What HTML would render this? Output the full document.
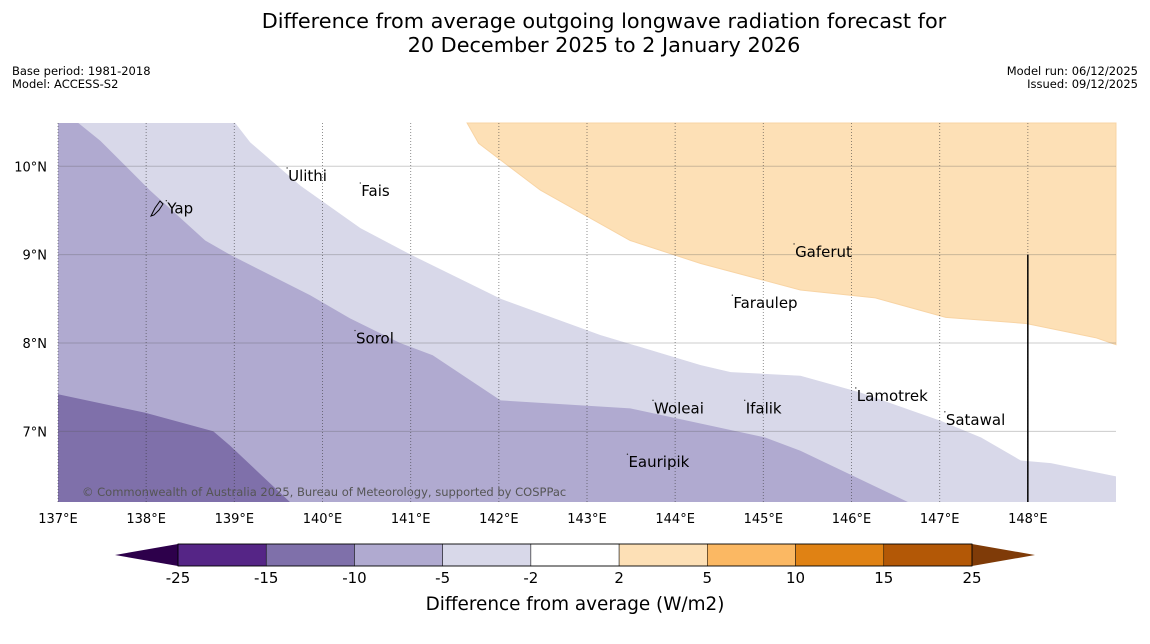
<!DOCTYPE html>
<html><head><meta charset="utf-8">
<style>
body{margin:0;background:#fff;width:1150px;height:644px;overflow:hidden;font-family:"DejaVu Sans","Liberation Sans",sans-serif;}
svg{display:block}
</style></head>
<body>
<svg id="chart" width="1150" height="644" xmlns="http://www.w3.org/2000/svg" font-family="DejaVu Sans, Liberation Sans, sans-serif">
<text x="604" y="28" text-anchor="middle" font-size="20.8" fill="#000">Difference from average outgoing longwave radiation forecast for</text>
<text x="604" y="52" text-anchor="middle" font-size="20.8" fill="#000">20 December 2025 to 2 January 2026</text>
<text x="12" y="75" font-size="11.5">Base period: 1981-2018</text>
<text x="12" y="88" font-size="11.5">Model: ACCESS-S2</text>
<text x="1138" y="75" font-size="11.5" text-anchor="end">Model run: 06/12/2025</text>
<text x="1138" y="88" font-size="11.5" text-anchor="end">Issued: 09/12/2025</text>
<g id="map"></g>
<g id="cbar"></g>
<text x="575" y="610" text-anchor="middle" font-size="18.4">Difference from average (W/m2)</text>
</svg>
<script>
const lonTicks=[137,138,139,140,141,142,143,144,145,146,147,148];
const latTicks=[7,8,9,10];
const boundaryA=[[137,7.42],[137.99,7.21],[138.76,7.0],[138.95,6.84],[139.63,6.2]];
const boundaryB=[[137.23,10.49],[137.48,10.29],[138.04,9.73],[138.67,9.16],[138.95,9.0],[139.86,8.54],[140.31,8.28],[140.88,8.0],[141.25,7.86],[142.02,7.35],[143.49,7.26],[145.02,6.93],[145.42,6.78],[146.64,6.2]];
const boundaryC=[[139.01,10.49],[139.18,10.27],[139.75,9.78],[140.43,9.30],[141.0,9.0],[142.02,8.5],[143.15,8.09],[144.29,7.75],[144.63,7.67],[145.42,7.63],[146.1,7.44],[147.01,7.12],[147.47,6.93],[147.92,6.67],[148.26,6.64],[149.0,6.49]];
const boundaryD=[[141.64,10.49],[141.77,10.26],[142.47,9.73],[143.49,9.16],[144.29,8.90],[145.42,8.60],[146.27,8.51],[147.07,8.29],[147.98,8.22],[148.77,8.06],[149.0,7.98]];
const places=["Yap","Ulithi","Fais","Sorol","Gaferut","Faraulep","Woleai","Ifalik","Lamotrek","Satawal","Eauripik"];
const placeLon=[138.24,139.61,140.44,140.38,145.36,144.66,143.76,144.8,146.06,147.07,143.47];
const placeLat=[9.52,9.89,9.72,8.05,9.03,8.45,7.26,7.26,7.40,7.13,6.65];
const cbBounds=[-25,-15,-10,-5,-2,2,5,10,15,25];
const cbColors=["#552586","#7f70aa","#b0aad0","#d8d8e9","#ffffff","#fde0b6","#fbb863","#e08214","#b35806"];

const NS="http://www.w3.org/2000/svg";
const X0=58,X1=1116,Y0=123,Y1=502;
const lonMin=137,lonMax=149,latMin=6.2,latMax=10.49;
function xS(l){return X0+(l-lonMin)/(lonMax-lonMin)*(X1-X0);}
function yS(l){return Y1-(l-latMin)/(latMax-latMin)*(Y1-Y0);}
function mk(tag,attrs,parent){const e=document.createElementNS(NS,tag);for(const k in attrs)e.setAttribute(k,attrs[k]);parent.appendChild(e);return e;}
const map=document.getElementById('map');
mk('rect',{x:X0,y:Y0,width:X1-X0,height:Y1-Y0,fill:'#fff'},map);
function pts(arr){return arr.map(p=>xS(p[0]).toFixed(1)+','+yS(p[1]).toFixed(1)).join(' ');}
let p;
p=mk('polygon',{points:pts(boundaryD.concat([[lonMax,latMax]])),fill:'#fde0b6',stroke:'#f8d4a4','stroke-width':1},map);


p=mk('polygon',{points:pts(boundaryC.concat([[lonMax,latMin],[lonMin,latMin],[lonMin,latMax]])),fill:'#d8d8e9'},map);


p=mk('polygon',{points:pts(boundaryB.concat([[lonMin,latMin],[lonMin,latMax]])),fill:'#b0aad0'},map);


p=mk('polygon',{points:pts(boundaryA.concat([[lonMin,latMin]])),fill:'#7f70aa'},map);


latTicks.forEach(l=>{
  const ln=mk('line',{x1:X0,x2:X1,y1:yS(l),y2:yS(l),stroke:'#555','stroke-opacity':0.3,'stroke-width':1},map);
  
  
  const t=mk('text',{x:47,y:yS(l)+5,'text-anchor':'end','font-size':13},map);t.textContent=l+'°N';
  
  
});
lonTicks.forEach(l=>{
  const ln=mk('line',{x1:xS(l),x2:xS(l),y1:Y0,y2:Y1,stroke:'#333','stroke-opacity':0.55,'stroke-width':1,'stroke-dasharray':'1,2'},map);
  
  
  const t=mk('text',{x:xS(l),y:523,'text-anchor':'middle','font-size':13},map);t.textContent=l+'°E';
  
  
});
const bl=mk('line',{x1:xS(148),x2:xS(148),y1:yS(9),y2:Y1,stroke:'#000','stroke-width':1.5},map);


const yi=mk('path',{d:'M151,216 L155,208 L160,201 L163,204 L159,210 L154,215 Z',fill:'none',stroke:'#000','stroke-width':1},map);


places.forEach((n,i)=>{
  const d=mk('circle',{cx:xS(placeLon[i])-1,cy:yS(placeLat[i])-8,r:0.7,fill:'#333'},map);
  
  
  const t=mk('text',{x:xS(placeLon[i]),y:yS(placeLat[i])+5,'font-size':15},map);t.textContent=n;
  
  
});
const cr=mk('text',{x:82,y:496,'font-size':11.5,fill:'#555'},map);
cr.textContent='© Commonwealth of Australia 2025, Bureau of Meteorology, supported by COSPPac';


const cb=document.getElementById('cbar');
const CX0=178,CX1=972,CY=544,CH=22;
const segW=(CX1-CX0)/cbColors.length;
let a=mk('polygon',{points:`115,555 ${CX0},${CY} ${CX0},${CY+CH}`,fill:'#2d004b'},cb);


a=mk('polygon',{points:`1035,555 ${CX1},${CY} ${CX1},${CY+CH}`,fill:'#7f3b08'},cb);


cbColors.forEach((c,i)=>{
  const r=mk('rect',{x:CX0+i*segW,y:CY,width:segW,height:CH,fill:c,stroke:'#000','stroke-width':0.5},cb);
  
  
});
mk('rect',{x:CX0,y:CY,width:CX1-CX0,height:CH,fill:'none',stroke:'#000','stroke-width':0.8},cb);
cbBounds.forEach((v,i)=>{
  const t=mk('text',{x:CX0+i*segW,y:583,'text-anchor':'middle','font-size':15},cb);t.textContent=v;
  
  
});
</script>
</body></html>
